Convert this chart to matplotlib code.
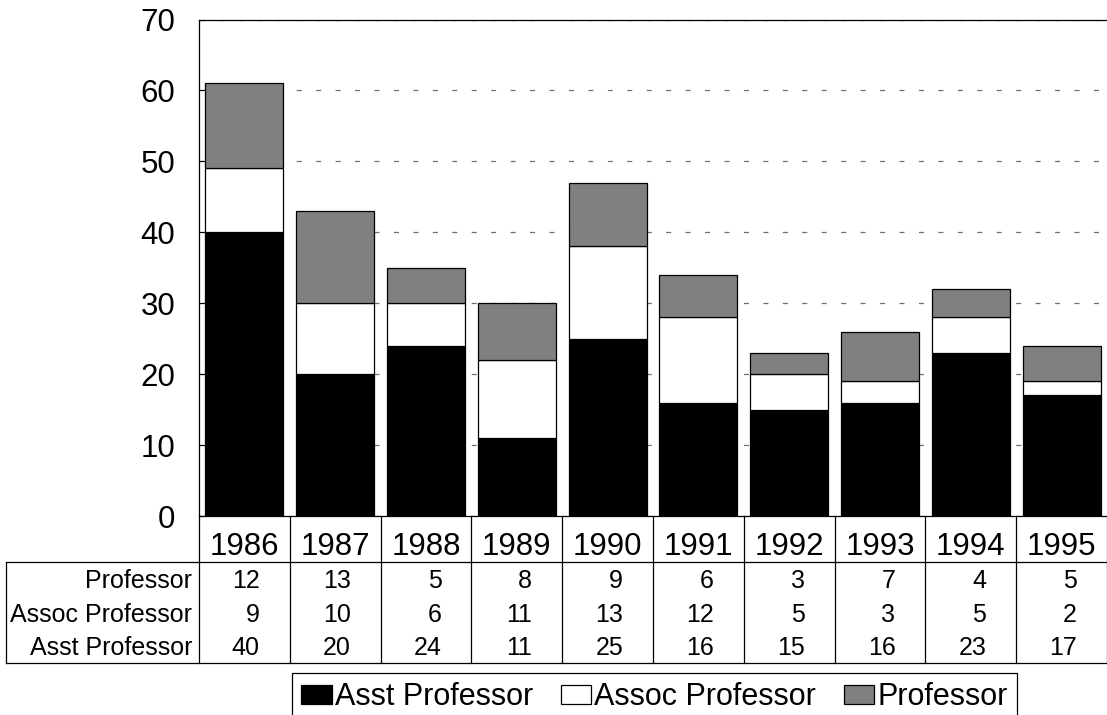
import matplotlib
matplotlib.use('Agg')
import matplotlib.pyplot as plt
from matplotlib.patches import Patch

plt.rcParams['font.family'] = ['Liberation Sans', 'DejaVu Sans']
plt.rcParams['lines.scale_dashes'] = False

# data
years = ['1986', '1987', '1988', '1989', '1990', '1991', '1992', '1993', '1994', '1995']
asst = [40, 20, 24, 11, 25, 16, 15, 16, 23, 17]
assoc = [9, 10, 6, 11, 13, 12, 5, 3, 5, 2]
prof = [12, 13, 5, 8, 9, 6, 3, 7, 4, 5]
series_names = ['Asst Professor', 'Assoc Professor', 'Professor']
series_colors = ['#000000', '#ffffff', '#808080']
yticks = [0, 10, 20, 30, 40, 50, 60, 70]

W, H = 1107, 715
fig = plt.figure(figsize=(W / 100, H / 100), dpi=100)

# plot area in pixels
left_px, right_px, top_px, bot_px = 199, 1107, 19.5, 516
col_px = (right_px - left_px) / len(years)

ax = fig.add_axes([left_px / W, (H - bot_px) / H, (right_px - left_px) / W, (bot_px - top_px) / H])
x = list(range(len(years)))
bottom2 = [a + b for a, b in zip(asst, assoc)]

ax.bar(x, asst, width=0.86, color=series_colors[0], edgecolor='black', linewidth=0.9, zorder=3)
ax.bar(x, assoc, bottom=asst, width=0.86, color=series_colors[1], edgecolor='black', linewidth=0.9, zorder=3)
ax.bar(x, prof, bottom=bottom2, width=0.86, color=series_colors[2], edgecolor='black', linewidth=0.9, zorder=3)

ax.set_xlim(-0.5, len(years) - 0.5)
ax.set_ylim(0, 70)
ax.set_yticks(yticks)
ax.set_xticks([])
ax.tick_params(axis='y', direction='in', length=4, width=0.8, pad=17, labelsize=22.5)
ax.yaxis.grid(True, color='#707070', linewidth=0.9, linestyle=(0, (3.6, 10.4)), zorder=0)
ax.set_axisbelow(True)
ax.spines['right'].set_visible(False)
for s in ['left', 'top', 'bottom']:
    ax.spines[s].set_linewidth(0.9)

# data table under the chart
tab_bot = 663
ax_t = fig.add_axes([left_px / W, (H - tab_bot) / H, (right_px - left_px) / W, (tab_bot - bot_px) / H])
ax_t.set_xlim(-0.5, len(years) - 0.5)
ax_t.set_ylim(tab_bot, bot_px)
ax_t.axis('off')


def px2x(px):
    return -0.5 + (px - left_px) / col_px


for i in range(len(years) + 1):
    ax_t.plot([i - 0.5, i - 0.5], [bot_px, tab_bot], color='black', lw=0.9, clip_on=False)
ax_t.plot([px2x(6), px2x(6)], [562, tab_bot], color='black', lw=0.9, clip_on=False)
for yy in [562, tab_bot]:
    ax_t.plot([px2x(6), len(years) - 0.5], [yy, yy], color='black', lw=0.9, clip_on=False)

for i, yr in enumerate(years):
    ax_t.text(i, 555, yr, ha='center', va='baseline', fontsize=22.5)

rows = [('Professor', prof, 588), ('Assoc Professor', assoc, 622), ('Asst Professor', asst, 655)]
for name, vals, base in rows:
    ax_t.text(px2x(192), base, name, ha='right', va='baseline', fontsize=18, clip_on=False)
    for i, v in enumerate(vals):
        ax_t.text(i + 0.17, base, str(v), ha='right', va='baseline', fontsize=18)

# legend
handles = [Patch(facecolor=c, edgecolor='black', linewidth=0.9) for c in series_colors]
leg = fig.legend(handles, series_names, loc='upper left', bbox_to_anchor=(292 / W, (H - 673) / H),
                 ncol=3, fontsize=22, frameon=True, fancybox=False, edgecolor='black', framealpha=1,
                 borderaxespad=0, borderpad=0.3, handlelength=1.0, handleheight=0.55,
                 handletextpad=0.1, columnspacing=0.9)
leg.get_frame().set_linewidth(0.9)

fig.savefig('out.png', dpi=100)
